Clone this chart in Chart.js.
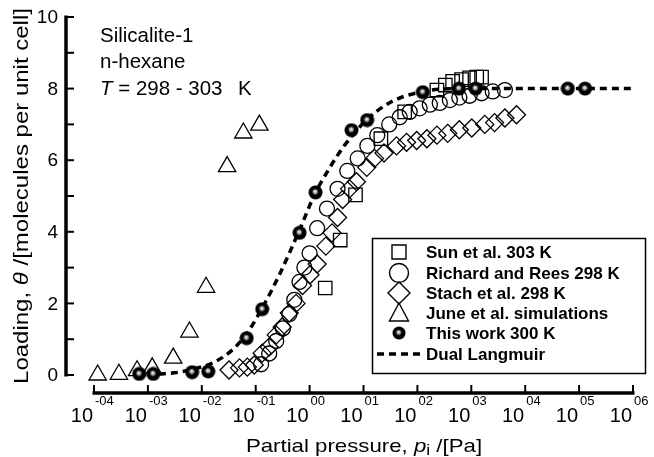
<!DOCTYPE html>
<html lang="en">
<head>
<meta charset="UTF-8">
<title>Silicalite-1 n-hexane isotherm</title>
<script src="https://cdn.jsdelivr.net/npm/chart.js"></script>
<style>
    html, body { margin: 0; padding: 0; background: #fff; }
    canvas { display: block; }
</style>
</head>
<body>
<canvas id="isotherm" width="654" height="457"></canvas>
<script>
// pressures in Pa, loadings in molecules per unit cell
const sunP = [1.95, 3.7, 7.1, 21, 58, 230, 330, 450, 660, 930, 1260, 1550];
const sunLoad = [2.43, 3.77, 5.03, 6.6, 7.35, 7.96, 8.1, 8.2, 8.25, 8.3, 8.32, 8.32];

const reesP = [0.126, 0.178, 0.24, 0.32, 0.42, 0.52, 0.65, 0.8, 1.0, 1.38, 2.1, 3.3, 5.0, 7.8, 11.8, 18, 30, 47, 72, 110, 170, 260, 400, 600, 930, 1550, 2500, 4200];
const reesLoad = [0.3, 0.6, 0.95, 1.3, 1.7, 2.1, 2.6, 3.0, 3.4, 4.1, 4.65, 5.2, 5.7, 6.05, 6.4, 6.7, 7.0, 7.2, 7.35, 7.45, 7.55, 7.6, 7.68, 7.75, 7.8, 7.87, 7.92, 7.96];

const stachP = [0.032, 0.05, 0.07, 0.094, 0.132, 0.178, 0.24, 0.31, 0.42, 0.56, 0.74, 1.02, 1.38, 2.0, 2.6, 3.3, 4.1, 5.5, 7.4, 11.5, 16, 24, 41, 63, 97, 150, 230, 365, 600, 1020, 1780, 2700, 4200, 6900];
const stachLoad = [0.14, 0.2, 0.22, 0.28, 0.61, 0.78, 1.12, 1.34, 1.73, 2.0, 2.5, 2.8, 3.1, 3.6, 3.97, 4.4, 4.9, 5.2, 5.4, 5.8, 6.05, 6.2, 6.4, 6.5, 6.55, 6.6, 6.7, 6.75, 6.85, 6.9, 7.0, 7.05, 7.18, 7.27];

const juneP = [0.000117, 0.00029, 0.00063, 0.0012, 0.00295, 0.0059, 0.012, 0.0295, 0.059, 0.117];
const juneLoad = [0.0, 0.02, 0.12, 0.2, 0.47, 1.2, 2.45, 5.82, 6.76, 6.98];

const thisWorkP = [0.00069, 0.00126, 0.0066, 0.0132, 0.068, 0.132, 0.65, 1.29, 6.0, 11.7, 126, 590, 1200, 61700, 129000];
const thisWorkLoad = [0.03, 0.03, 0.08, 0.1, 1.03, 1.84, 3.97, 5.1, 6.84, 7.12, 7.9, 8.0, 8.0, 8.0, 8.0];

const langmuirP = [0.0016, 0.0031, 0.0072, 0.017, 0.04, 0.076, 0.132, 0.275, 0.65, 1.23, 2.34, 4.47, 10.5, 30, 110, 600, 7900, 1000000];
const langmuirLoad = [0.03, 0.06, 0.17, 0.36, 0.75, 1.26, 1.87, 2.8, 4.05, 5.03, 5.78, 6.42, 7.07, 7.6, 7.9, 8.0, 8.0, 8.0];

const xTickValues = [1e-4, 1e-3, 1e-2, 1e-1, 1e0, 1e1, 1e2, 1e3, 1e4, 1e5, 1e6];
const xTickExps = ['-04', '-03', '-02', '-01', '00', '01', '02', '03', '04', '05', '06'];
const yTickValues = [0, 1, 2, 3, 4, 5, 6, 7, 8, 9, 10];
const yTickLabels = ['0', '', '2', '', '4', '', '6', '', '8', '', '10'];

const legendNames = ['Sun et al. 303 K', 'Richard and Rees 298 K', 'Stach et al. 298 K', 'June et al. simulations', 'This work 300 K', 'Dual Langmuir'];

const FONT = '"Liberation Sans", Arial, Helvetica, sans-serif';

function pairs(xs, ys) {
    return xs.map((x, i) => ({ x: x, y: ys[i] }));
}

// shaded ball marker used for "This work"
const ball = document.createElement('canvas');
ball.width = 15;
ball.height = 15;
(function () {
    const c = ball.getContext('2d');
    const g = c.createRadialGradient(7, 6.5, 0, 7.5, 7.5, 7.5);
    g.addColorStop(0, '#fff');
    g.addColorStop(0.2, '#bbb');
    g.addColorStop(0.45, '#000');
    g.addColorStop(1, '#000');
    c.fillStyle = g;
    c.beginPath();
    c.arc(7.5, 7.5, 7, 0, Math.PI * 2);
    c.fill();
})();

// draws a row of text pieces with different styles, stretched horizontally
function drawRuns(ctx, runs, cx, baseY, stretch, align) {
    let total = 0;
    runs.forEach(r => { ctx.font = r.font; total += ctx.measureText(r.text).width; });
    ctx.save();
    ctx.translate(cx, baseY);
    ctx.scale(stretch, 1);
    let x = align === 'left' ? 0 : -total / 2;
    ctx.textAlign = 'left';
    ctx.textBaseline = 'alphabetic';
    runs.forEach(r => {
        ctx.font = r.font;
        ctx.fillText(r.text, x, r.dy || 0);
        x += ctx.measureText(r.text).width;
    });
    ctx.restore();
}

const axesPlugin = {
    id: 'paperAxes',
    afterDraw(chart) {
        const ctx = chart.ctx;
        const xs = chart.scales.x;
        const ys = chart.scales.y;
        ctx.save();
        ctx.strokeStyle = '#000';
        ctx.fillStyle = '#000';

        // y axis, detached to the left
        const ax = 66;
        ctx.lineWidth = 3.5;
        ctx.beginPath();
        ctx.moveTo(ax, ys.getPixelForValue(10) - 1.5);
        ctx.lineTo(ax, ys.getPixelForValue(0) + 1.5);
        ctx.stroke();
        ctx.lineWidth = 2;
        ctx.font = '19px ' + FONT;
        ctx.textAlign = 'right';
        ctx.textBaseline = 'middle';
        yTickValues.forEach((v, i) => {
            const py = ys.getPixelForValue(v);
            ctx.beginPath();
            ctx.moveTo(ax, py);
            ctx.lineTo(ax + 8, py);
            ctx.stroke();
            if (yTickLabels[i]) ctx.fillText(yTickLabels[i], 58, py + 1);
        });

        // x axis, detached below
        const ay = 393;
        ctx.lineWidth = 3.5;
        ctx.beginPath();
        ctx.moveTo(xs.getPixelForValue(xTickValues[0]) - 1.5, ay);
        ctx.lineTo(xs.getPixelForValue(xTickValues[xTickValues.length - 1]) + 1.5, ay);
        ctx.stroke();
        ctx.lineWidth = 2;
        xTickValues.forEach((v, i) => {
            const px = xs.getPixelForValue(v);
            ctx.beginPath();
            ctx.moveTo(px, ay);
            ctx.lineTo(px, ay - 8);
            ctx.stroke();
            ctx.textBaseline = 'alphabetic';
            ctx.font = '20px ' + FONT;
            ctx.textAlign = 'right';
            ctx.fillText('10', px - 1, 422);
            ctx.font = '13px ' + FONT;
            ctx.textAlign = 'left';
            ctx.fillText(xTickExps[i], px + 1, 405);
        });

        // axis titles
        drawRuns(ctx, [
            { text: 'Partial pressure, ', font: '19px ' + FONT },
            { text: 'p', font: 'italic 19px ' + FONT },
            { text: 'i', font: '15px ' + FONT, dy: 3 },
            { text: ' /[Pa]', font: '19px ' + FONT }
        ], 364, 452, 1.17);

        ctx.save();
        ctx.translate(28, 196);
        ctx.rotate(-Math.PI / 2);
        drawRuns(ctx, [
            { text: 'Loading, ', font: '20px ' + FONT },
            { text: '\u03B8', font: 'italic 20px ' + FONT },
            { text: ' /[molecules per unit cell]', font: '20px ' + FONT }
        ], 0, 0, 1.2);
        ctx.restore();

        // sample annotation
        ctx.font = '20.5px ' + FONT;
        ctx.textAlign = 'left';
        ctx.textBaseline = 'alphabetic';
        ctx.fillText('Silicalite-1', 100, 42);
        ctx.fillText('n-hexane', 100, 68);
        drawRuns(ctx, [
            { text: 'T', font: 'italic 20.5px ' + FONT },
            { text: ' = 298 - 303', font: '20.5px ' + FONT }
        ], 100, 95, 1.0, 'left');
        ctx.font = '20.5px ' + FONT;
        ctx.fillText('K', 238, 95);

        // legend box
        ctx.lineWidth = 1.5;
        ctx.strokeRect(372.5, 238.5, 273, 135);
        const sx = 399;
        const rowsY = [252, 273, 293, 313, 333, 354];
        ctx.lineWidth = 1.4;
        ctx.beginPath();
        ctx.rect(sx - 7, rowsY[0] - 7, 14, 14);
        ctx.stroke();
        ctx.beginPath();
        ctx.arc(sx, rowsY[1], 9.5, 0, Math.PI * 2);
        ctx.stroke();
        ctx.beginPath();
        ctx.moveTo(sx, rowsY[2] - 11);
        ctx.lineTo(sx + 11, rowsY[2]);
        ctx.lineTo(sx, rowsY[2] + 11);
        ctx.lineTo(sx - 11, rowsY[2]);
        ctx.closePath();
        ctx.stroke();
        ctx.beginPath();
        ctx.moveTo(sx, rowsY[3] - 10);
        ctx.lineTo(sx + 9.5, rowsY[3] + 8);
        ctx.lineTo(sx - 9.5, rowsY[3] + 8);
        ctx.closePath();
        ctx.stroke();
        ctx.drawImage(ball, sx - 7, rowsY[4] - 7, 14, 14);
        ctx.lineWidth = 3.5;
        ctx.setLineDash([7, 5]);
        ctx.beginPath();
        ctx.moveTo(377, rowsY[5]);
        ctx.lineTo(420, rowsY[5]);
        ctx.stroke();
        ctx.setLineDash([]);

        ctx.font = 'bold 17px ' + FONT;
        ctx.textAlign = 'left';
        ctx.textBaseline = 'alphabetic';
        legendNames.forEach((name, i) => ctx.fillText(name, 426, rowsY[i] + 6));

        ctx.restore();
    }
};

const common = { showLine: false, borderColor: '#000', backgroundColor: 'rgba(0,0,0,0)', borderWidth: 1.3, clip: false };

new Chart(document.getElementById('isotherm'), {
    type: 'scatter',
    data: {
        datasets: [
            Object.assign({}, common, { label: legendNames[4], data: pairs(thisWorkP, thisWorkLoad), pointStyle: ball, pointRadius: 7, order: 0 }),
            {
                label: legendNames[5], data: pairs(langmuirP, langmuirLoad), showLine: true, pointRadius: 0,
                borderColor: '#000', borderWidth: 3.5, borderDash: [7, 5], cubicInterpolationMode: 'monotone', clip: false, order: 1
            },
            Object.assign({}, common, { label: legendNames[0], data: pairs(sunP, sunLoad), pointStyle: 'rect', pointRadius: 9.5, order: 2 }),
            Object.assign({}, common, { label: legendNames[1], data: pairs(reesP, reesLoad), pointStyle: 'circle', pointRadius: 7.5, order: 3 }),
            Object.assign({}, common, { label: legendNames[2], data: pairs(stachP, stachLoad), pointStyle: 'rectRot', pointRadius: 9, order: 4 }),
            Object.assign({}, common, { label: legendNames[3], data: pairs(juneP, juneLoad), pointStyle: 'triangle', pointRadius: 10, order: 5 })
        ]
    },
    options: {
        responsive: false,
        devicePixelRatio: 1,
        animation: false,
        layout: { padding: { left: 94, right: 21, top: 17, bottom: 82 } },
        plugins: { legend: { display: false }, tooltip: { enabled: false } },
        scales: {
            x: { type: 'logarithmic', min: 1e-4, max: 1e6, display: false },
            y: { type: 'linear', min: 0, max: 10, display: false }
        }
    },
    plugins: [axesPlugin]
});
</script>
</body>
</html>
